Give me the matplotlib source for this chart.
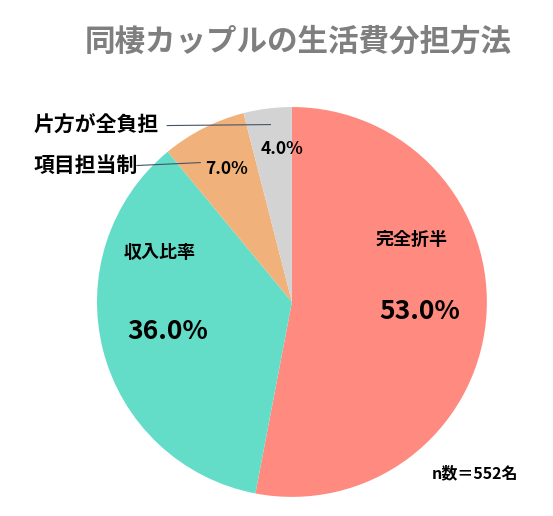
import matplotlib.pyplot as plt

plt.rcParams['font.family'] = ['Noto Sans CJK JP', 'DejaVu Sans']

labels = ['完全折半', '収入比率', '項目担当制', '片方が全負担']
shares = [53.0, 36.0, 7.0, 4.0]
colors = ['#FF8A80', '#63DDC8', '#F0B27A', '#D3D3D3']

fig = plt.figure(figsize=(5.53, 5.16), dpi=100)
ax = fig.add_axes([0.1754, 0.0368, 0.705, 0.756])

ax.pie(shares, colors=colors, startangle=90, counterclock=False,
       wedgeprops=dict(linewidth=0))
ax.set_xlim(-1, 1)
ax.set_ylim(-1, 1)
ax.set_aspect('equal')

# big slices: name + percent inside
ax.text(0.615, 0.32, labels[0], fontsize=13, fontweight='bold', ha='center', va='center')
ax.text(0.655, -0.05, f'{shares[0]:.1f}%', fontsize=19, fontweight='bold', ha='center', va='center')
ax.text(-0.68, 0.255, labels[1], fontsize=13, fontweight='bold', ha='center', va='center')
ax.text(-0.635, -0.15, f'{shares[1]:.1f}%', fontsize=19, fontweight='bold', ha='center', va='center')

# small slices: percent inside, name outside with leader line
ax.text(-0.335, 0.68, f'{shares[2]:.1f}%', fontsize=12.5, fontweight='bold', ha='center', va='center')
ax.text(-0.05, 0.785, f'{shares[3]:.1f}%', fontsize=12.5, fontweight='bold', ha='center', va='center')
ax.text(-0.79, 0.70, labels[2], fontsize=15, fontweight='bold', ha='right', va='center', clip_on=False)
ax.text(-0.685, 0.905, labels[3], fontsize=15, fontweight='bold', ha='right', va='center', clip_on=False)
ax.plot([-0.795, -0.47], [0.70, 0.715], color='#44546A', lw=0.8, clip_on=False)
ax.plot([-0.64, -0.11], [0.905, 0.91], color='#44546A', lw=0.8, clip_on=False)

ax.text(0.94, -0.88, 'n数＝552名', fontsize=11.5, fontweight='bold', ha='center', va='center', clip_on=False)

fig.text(0.54, 0.92, '同棲カップルの生活費分担方法', fontsize=22, fontweight='bold',
         color='#7F7F7F', ha='center', va='center')

fig.savefig('out.png', dpi=100)
